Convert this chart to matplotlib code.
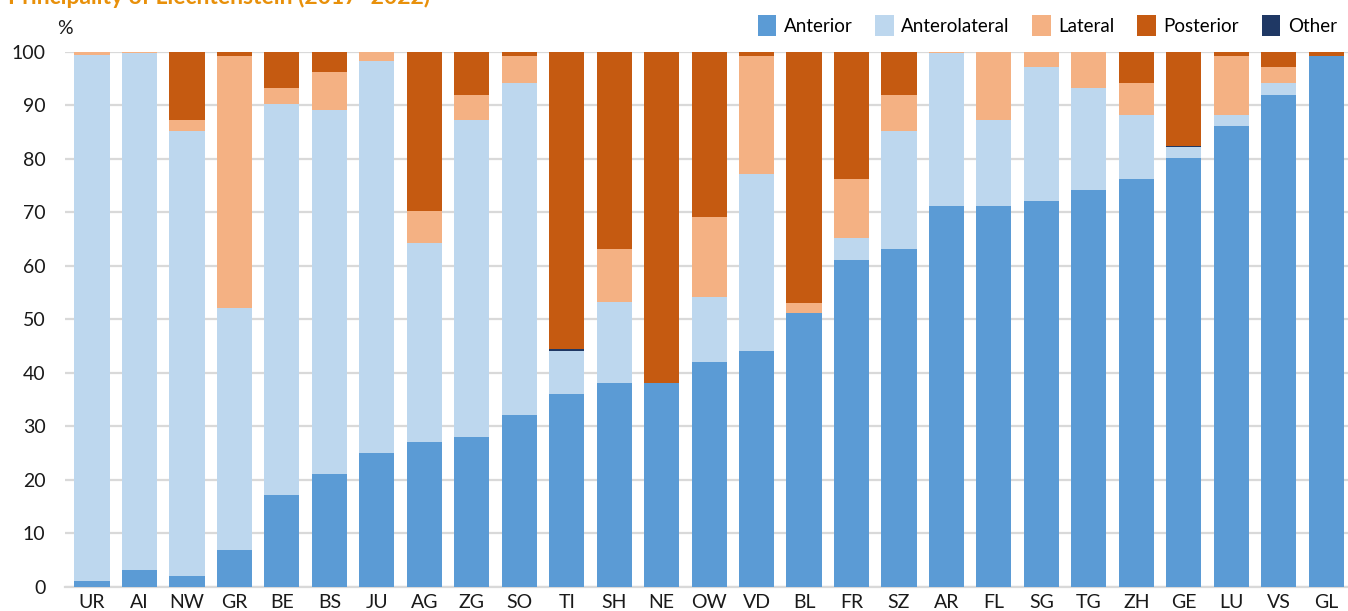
import numpy as np
import matplotlib.pyplot as plt

plt.rcParams['font.family'] = ['Lato', 'DejaVu Sans']

cantons = ['UR', 'AI', 'NW', 'GR', 'BE', 'BS', 'JU', 'AG', 'ZG', 'SO', 'TI', 'SH', 'NE', 'OW',
           'VD', 'BL', 'FR', 'SZ', 'AR', 'FL', 'SG', 'TG', 'ZH', 'GE', 'LU', 'VS', 'GL']
anterior      = [1.1, 3.1, 2.0, 7.0, 17.1, 21.1, 25.0, 27.0, 28.0, 32.1, 36.0, 38.1, 38.1, 42.0,
                 44.1, 51.2, 61.1, 63.1, 71.1, 71.1, 72.1, 74.1, 76.2, 80.1, 86.1, 92.0, 99.2]
anterolateral = [98.2, 96.7, 83.2, 45.1, 73.1, 68.0, 73.3, 37.2, 59.2, 62.1, 8.1, 15.1, 0.0, 12.2,
                 33.0, 0.0, 4.1, 22.1, 28.7, 16.1, 25.0, 19.1, 11.9, 2.1, 2.0, 2.2, 0.0]
lateral       = [0.7, 0.2, 2.0, 47.1, 3.0, 7.1, 1.7, 6.0, 4.8, 5.0, 0.0, 9.9, 0.0, 14.9,
                 22.1, 1.8, 11.0, 6.8, 0.2, 12.8, 2.9, 6.8, 6.1, 0.0, 11.1, 2.9, 0.0]
posterior     = [0.0, 0.0, 12.8, 0.8, 6.8, 3.8, 0.0, 29.8, 8.0, 0.8, 55.6, 36.9, 61.9, 30.9,
                 0.8, 47.0, 23.8, 8.0, 0.0, 0.0, 0.0, 0.0, 5.8, 17.6, 0.8, 2.9, 0.8]
other         = [0.0, 0.0, 0.0, 0.0, 0.0, 0.0, 0.0, 0.0, 0.0, 0.0, 0.3, 0.0, 0.0, 0.0,
                 0.0, 0.0, 0.0, 0.0, 0.0, 0.0, 0.0, 0.0, 0.0, 0.2, 0.0, 0.0, 0.0]

colors = {'Anterior': '#5B9BD5', 'Anterolateral': '#BDD7EE', 'Lateral': '#F4B183',
          'Posterior': '#C55A11', 'Other': '#1F3864'}
# stacking order (Other sits just above anterolateral in the bars)
stack = [('Anterior', anterior), ('Anterolateral', anterolateral), ('Other', other),
         ('Lateral', lateral), ('Posterior', posterior)]
legend_order = ['Anterior', 'Anterolateral', 'Lateral', 'Posterior', 'Other']

fig = plt.figure(figsize=(13.48, 6.11), dpi=100)
ax = fig.add_axes([65/1348, 24/611, 1283/1348, (587-51.7)/611])

x = np.arange(len(cantons))
bottom = np.zeros(len(cantons))
handles = {}
for name, vals in stack:
    vals = np.array(vals)
    handles[name] = ax.bar(x, vals, bottom=bottom, width=0.74, color=colors[name],
                           label=name, zorder=3)
    bottom += vals

ax.set_xlim(-0.57, 26.46)
ax.set_ylim(0, 100)
ax.set_yticks(range(0, 101, 10))
ax.set_xticks(x)
ax.set_xticklabels(cantons)
ax.yaxis.grid(True, color='#D9D9D9', linewidth=1.6, zorder=0)
ax.set_axisbelow(True)
for s in ['left', 'right', 'top']:
    ax.spines[s].set_visible(False)
ax.spines['bottom'].set_color('#D9D9D9')
ax.spines['bottom'].set_linewidth(1.6)
ax.tick_params(axis='both', length=0, labelsize=14, colors='#1a1a1a')
ax.tick_params(axis='y', pad=14)
ax.tick_params(axis='x', pad=5)

fig.text(73/1348, 1 - 29/611, '%', fontsize=14, ha='right', va='center', color='#1a1a1a')
fig.text(8/1348, 1 - 4/611, 'Principality of Liechtenstein (2017–2022)', fontsize=16.5,
         fontweight='bold', color='#E8900A', ha='left', va='baseline')

fig.legend([handles[n] for n in legend_order], legend_order,
           loc='upper right', bbox_to_anchor=(1.0, 1.0 - 4/611), ncol=5, frameon=False,
           fontsize=13.5, handlelength=1.0, handleheight=1.3, handletextpad=0.4,
           columnspacing=1.2, borderaxespad=0.2)

fig.savefig('out.png', dpi=100)
